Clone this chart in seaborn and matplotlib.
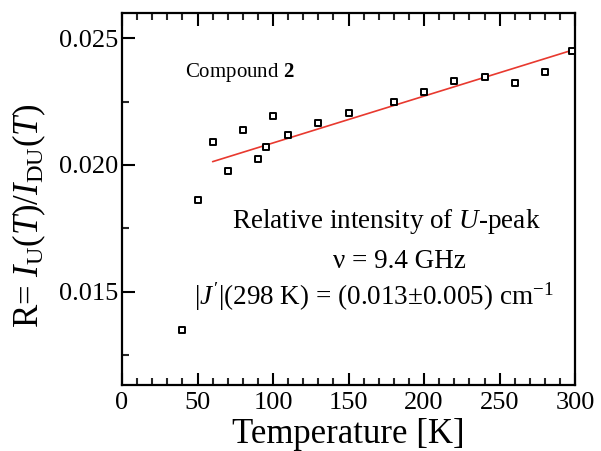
import matplotlib
matplotlib.use("Agg")
import matplotlib.pyplot as plt
from matplotlib.ticker import MultipleLocator, FormatStrFormatter
import seaborn as sns
import pandas as pd

# Measured ratio R = I_U(T) / I_DU(T)
temperature = [40, 50, 60, 70, 80, 90, 95, 100, 110, 130, 150, 180, 200, 220, 240, 260, 280, 298]
ratio = [0.01349, 0.01861, 0.02091, 0.01976, 0.02138, 0.02025, 0.02071, 0.02192, 0.02118,
         0.02166, 0.02204, 0.02250, 0.02289, 0.02331, 0.02346, 0.02322, 0.02366, 0.02449]

# Linear fit over the high-temperature range
fit_temperature = [60, 300]
fit_ratio = [0.02013, 0.02457]

sns.set_theme(style="ticks")
plt.rcParams["font.family"] = ["Liberation Serif", "DejaVu Serif"]
plt.rcParams["mathtext.fontset"] = "custom"
plt.rcParams["mathtext.rm"] = "Liberation Serif"
plt.rcParams["mathtext.it"] = "Liberation Serif:italic"
plt.rcParams["mathtext.bf"] = "Liberation Serif:bold"
plt.rcParams["text.color"] = "black"
plt.rcParams["axes.labelcolor"] = "black"

data = pd.DataFrame({"T": temperature, "R": ratio})
fit = pd.DataFrame({"T": fit_temperature, "R": fit_ratio})

fig = plt.figure(figsize=(6.01, 4.51), dpi=100)
ax = fig.add_axes([0.203, 0.146, 0.754, 0.825])

sns.lineplot(data=fit, x="T", y="R", ax=ax, color="#e8392f", lw=1.2, zorder=2)
sns.scatterplot(data=data, x="T", y="R", ax=ax, marker="s", s=22,
                facecolor="white", edgecolor="black", linewidth=1.4, zorder=3,
                clip_on=False)

ax.set_xlim(0, 300)
ax.set_ylim(0.0113, 0.0260)
ax.xaxis.set_major_locator(MultipleLocator(50))
ax.xaxis.set_minor_locator(MultipleLocator(10))
ax.yaxis.set_major_locator(MultipleLocator(0.005))
ax.yaxis.set_minor_locator(MultipleLocator(0.0025))
ax.yaxis.set_major_formatter(FormatStrFormatter("%.3f"))

ax.tick_params(axis="both", which="major", direction="in", length=9, width=1.5,
               labelsize=19, colors="black")
ax.tick_params(axis="x", which="major", pad=5)
ax.tick_params(axis="y", which="major", pad=3)
ax.tick_params(axis="both", which="minor", direction="in", length=5, width=1.5)
ax.tick_params(axis="x", which="both", top=True)
ax.tick_params(axis="y", which="both", right=False)
for side in ax.spines.values():
    side.set_linewidth(1.6)
    side.set_color("black")

ax.set_xlabel("Temperature [K]", fontsize=25)
ax.xaxis.set_label_coords(0.5, -0.088)
ax.set_ylabel(r"R= $I_{\mathrm{U}}(T)/I_{\mathrm{DU}}(T)$", fontsize=25)
ax.yaxis.set_label_coords(-0.163, 0.455)

ax.text(42, 0.02367, r"Compound $\mathbf{2}$", fontsize=15, ha="left", va="center")
ax.text(175, 0.01775, r"Relative intensity of $U$-peak", fontsize=19.5,
        ha="center", va="center")
ax.text(184, 0.01617, "\u03bd = 9.4 GHz", fontsize=19.5, ha="center", va="center")
ax.text(167, 0.01479, "$|J^{\\prime}|$(298 K) = (0.013\u00b10.005) cm$^{\\mathrm{-1}}$",
        fontsize=19.5, ha="center", va="center")

fig.savefig("out.png", dpi=100)
